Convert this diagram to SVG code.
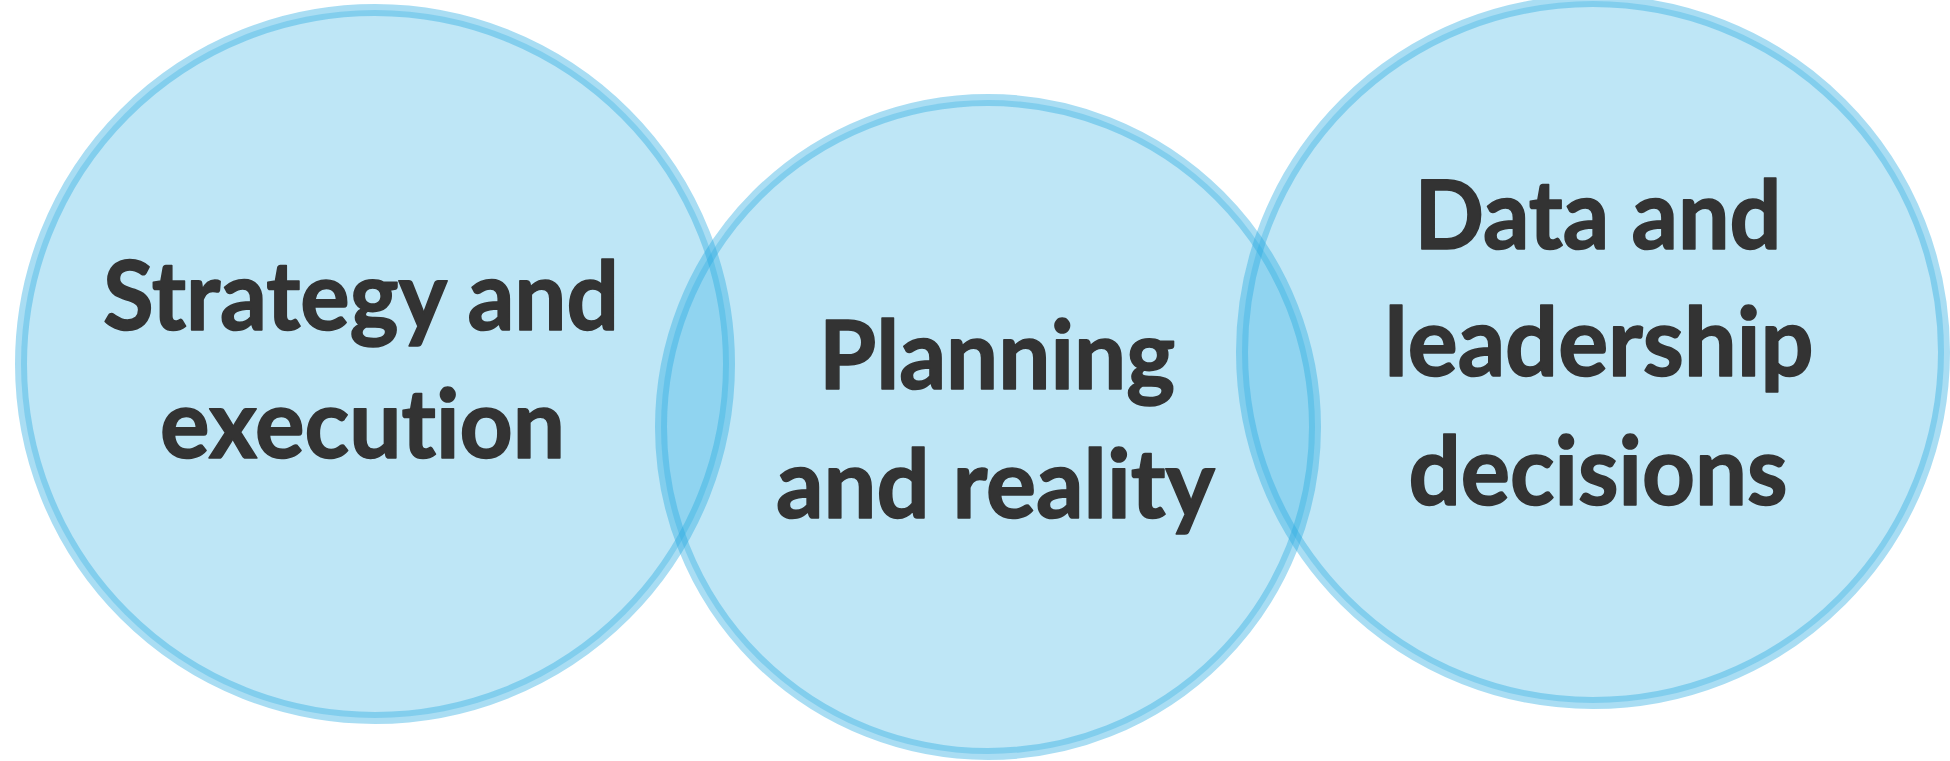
<svg xmlns="http://www.w3.org/2000/svg" width="1950" height="761" viewBox="0 0 1950 761">
  <style>
    .circ { fill: #29ABE2; fill-opacity: 0.3; stroke: #29ABE2; stroke-opacity: 0.4; stroke-width: 12; }
    .lbl { font-family: Lato, "Open Sans", "Liberation Sans", sans-serif; font-weight: 700; font-size: 96px; fill: #333333; stroke: #333333; stroke-width: 1.6; stroke-linejoin: round; text-anchor: middle; font-variant-ligatures: none; }
  </style>
  <rect x="0" y="0" width="1950" height="761" fill="#FFFFFF"/>
  <g id="connectors"></g>
  <g id="node-strategy">
    <circle class="circ" cx="375" cy="364" r="354"/>
    <text class="lbl" x="361" y="329.5" textLength="516" lengthAdjust="spacingAndGlyphs">Strategy and</text>
    <text class="lbl" x="362.5" y="458" textLength="405" lengthAdjust="spacingAndGlyphs">execution</text>
  </g>
  <g id="node-planning">
    <circle class="circ" cx="988" cy="427" r="327"/>
    <text class="lbl" x="997" y="388.5" textLength="356" lengthAdjust="spacingAndGlyphs">Planning</text>
    <text class="lbl" x="995.5" y="517.5" textLength="439" lengthAdjust="spacingAndGlyphs">and reality</text>
  </g>
  <g id="node-data">
    <circle class="circ" cx="1593" cy="352" r="351"/>
    <text class="lbl" x="1598" y="248.5" textLength="367" lengthAdjust="spacingAndGlyphs">Data and</text>
    <text class="lbl" x="1599" y="376" textLength="429" lengthAdjust="spacingAndGlyphs">leadership</text>
    <text class="lbl" x="1598" y="505" textLength="379" lengthAdjust="spacingAndGlyphs">decisions</text>
  </g>
</svg>
